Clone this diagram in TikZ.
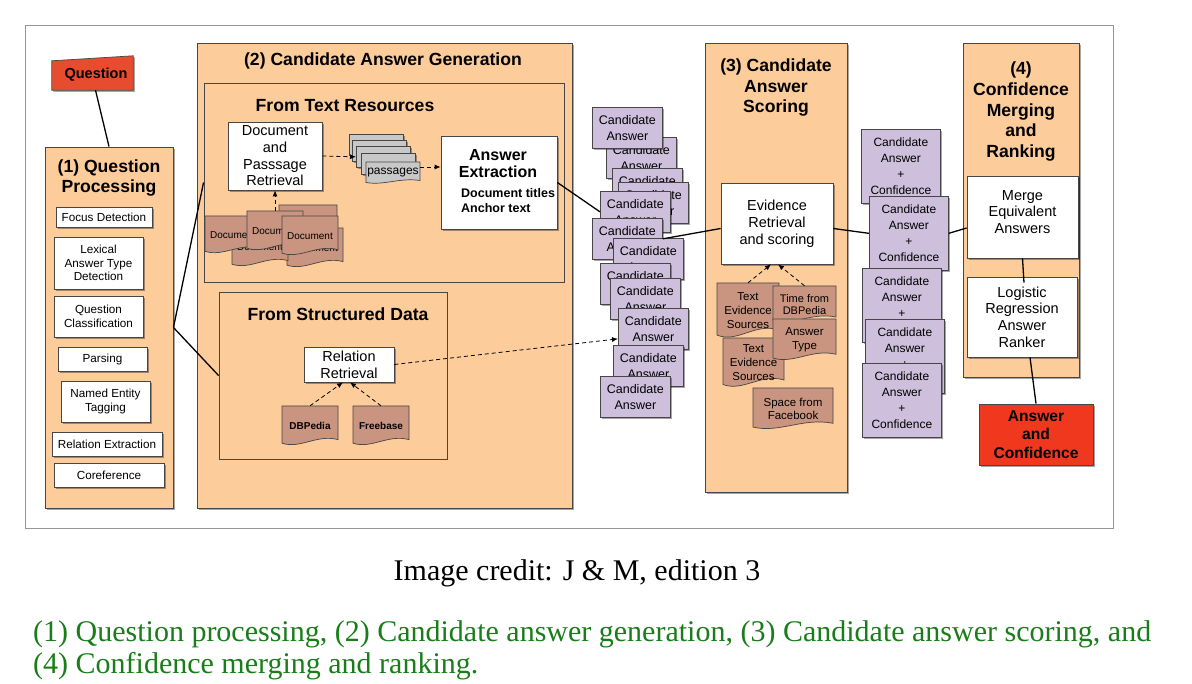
\documentclass[tikz,border=0pt]{standalone}
\usepackage{fontspec}
\setmainfont{Liberation Sans}
\newfontfamily\capserif{Liberation Serif}
\usetikzlibrary{shadows,arrows.meta,calc}

\definecolor{peach}{RGB}{253,204,155}
\definecolor{bordc}{RGB}{70,70,70}
\definecolor{qred}{RGB}{232,76,46}
\definecolor{ared}{RGB}{240,56,30}
\definecolor{docbrown}{RGB}{201,148,128}
\definecolor{lav}{RGB}{206,192,220}
\definecolor{pgray}{RGB}{200,200,200}
\definecolor{capgreen}{RGB}{25,125,25}
\definecolor{framegray}{RGB}{150,150,150}

\newcommand{\qpfont}{\fontsize{11.7}{13.7}\selectfont}
\newcommand{\midfont}{\fontsize{14.5}{16.7}\selectfont}
\newcommand{\docfont}{\fontsize{10}{12}\selectfont}
\newcommand{\evfont}{\fontsize{11.5}{14}\selectfont}
\newcommand{\capfont}{\capserif\fontsize{30}{32}\selectfont}

\tikzset{
  shad/.style={drop shadow={shadow xshift=1.6pt, shadow yshift=-1.6pt, fill=black, opacity=0.35}},
  stagebox/.style={draw=bordc, fill=peach, line width=0.9pt, shad, inner sep=0pt},
  subbox/.style={draw=bordc, fill=peach, line width=0.9pt, inner sep=0pt},
  wbox/.style={draw=bordc, fill=white, line width=0.7pt, shad, align=center, inner sep=1pt},
  cand/.style={draw=bordc, fill=lav, line width=0.7pt, shad, align=center, inner sep=1pt,
    minimum width=70pt, minimum height=41pt, font={\fontsize{12.5}{15.5}\selectfont}},
  cconf/.style={cand, minimum width=79pt, minimum height=74pt, font={\fontsize{12}{16}\selectfont}},
  pg/.style={draw=bordc, fill=pgray, line width=0.7pt, shad, inner sep=0pt, minimum width=54pt, minimum height=21pt},
  ttl/.style={font={\fontsize{17.6}{20.6}\selectfont\bfseries}, align=center, inner sep=0pt},
  conn/.style={line width=1.3pt, black},
  darr/.style={line width=0.8pt, black, dash pattern=on 4pt off 3pt, -{Latex[length=6pt,width=5pt]}},
  docedge/.style={draw=bordc, line width=0.7pt},
}

% #1 name, #2 left, #3 top, #4 width, #5 height, #6 fill, #7 node options, #8 text
\newcommand{\wdoc}[8]{%
  \filldraw[docedge, fill=#6] (#2,#3) -- ({#2+#4},#3) -- ({#2+#4},{#3+0.84*#5})
    .. controls ({#2+0.62*#4},{#3+0.70*#5}) and ({#2+0.33*#4},{#3+1.08*#5}) .. (#2,{#3+0.93*#5}) -- cycle;
  \node[inner sep=0pt, minimum width=#4pt, minimum height=#5pt, align=center, #7] (#1) at ({#2+#4/2},{#3+#5/2}) {#8};
}
\newcommand{\cand}[3]{\node[cand, anchor=north west] (#1) at (#2,#3) {Candidate\\Answer};}
\newcommand{\cconf}[3]{\node[cconf, anchor=north west] (#1) at (#2,#3) {Candidate\\Answer\\+\\Confidence};}

\begin{document}
\begin{tikzpicture}[x=1pt,y=-1pt]
\fill[white] (0,0) rectangle (1192,684);
\useasboundingbox (0,0) rectangle (1192,684);
\draw[framegray, line width=0.8pt] (25,25) rectangle (1113,528);

% stage boxes
\node[stagebox, minimum width=128pt, minimum height=361pt] (s1) at (109,327.5) {};
\node[stagebox, minimum width=375pt, minimum height=465pt] (s2) at (384.5,275.5) {};
\node[stagebox, minimum width=142pt, minimum height=449pt] (s3) at (776,267.5) {};
\node[stagebox, minimum width=116pt, minimum height=334pt] (s4) at (1021,210) {};

% question
\node[minimum width=81pt, minimum height=34pt, inner sep=0pt] (q) at (92.5,73) {};
\filldraw[draw=bordc, fill=qred, line width=0.7pt, shad] (q.south west) -- (q.south east) -- (q.north east) -- ($(q.north west)+(0,5)$) -- cycle;
\node[font={\fontsize{14.5}{16}\selectfont\bfseries}] (qt) at (96,75) {Question};

% stage 1
\node[ttl] (s1t) at (109,178) {(1) Question\\Processing};
\node[wbox, font=\qpfont, minimum width=96pt, minimum height=20pt] (fd) at (104,217) {Focus Detection};
\node[wbox, font=\qpfont, minimum width=89pt, minimum height=52pt] (lat) at (98.5,263) {Lexical\\Answer Type\\Detection};
\node[wbox, font=\qpfont, minimum width=89pt, minimum height=41pt] (qc) at (98.5,316.5) {Question\\Classification};
\node[wbox, font=\qpfont, minimum width=89pt, minimum height=24pt] (pa) at (102.5,359) {Parsing};
\node[wbox, font=\qpfont, minimum width=89pt, minimum height=41pt] (ne) at (105.5,401.5) {Named Entity\\Tagging};
\node[wbox, font=\qpfont, minimum width=110pt, minimum height=24pt] (rex) at (107,444) {Relation Extraction};
\node[wbox, font=\qpfont, minimum width=110pt, minimum height=24pt] (co) at (109,475) {Coreference};

% stage 2
\node[ttl] (s2t) at (383,61) {(2) Candidate Answer Generation};
\node[subbox, minimum width=360pt, minimum height=199pt] (ft) at (384,182.5) {};
\node[ttl] (ftt) at (345,106) {From Text Resources};
\node[wbox, font=\midfont, minimum width=94pt, minimum height=68pt] (dpr) at (275,156) {Document\\and\\Passsage\\Retrieval};

\wdoc{dd1}{279}{205}{58}{40}{docbrown}{font=\docfont}{Document}
\wdoc{dd2}{287}{228}{56}{40}{docbrown}{font=\docfont}{Document}
\wdoc{db}{232}{227}{56}{40}{docbrown}{font=\docfont}{Document}
\wdoc{da}{205}{216}{56}{38}{docbrown}{font=\docfont}{Document}
\wdoc{dc}{247}{211}{56}{40}{docbrown}{font=\docfont}{Document}
\wdoc{de}{282}{216}{56}{40}{docbrown}{font=\docfont}{Document}

\node[pg, anchor=north west] (p0) at (349,134) {};
\node[pg, anchor=north west] (p1) at (352,140) {};
\node[pg, anchor=north west] (p2) at (356,146) {};
\node[pg, anchor=north west] (p3) at (361,153) {};
\wdoc{p4}{366}{162}{54}{22}{pgray}{font={\fontsize{12}{14}\selectfont}}{passages}

\node[wbox, minimum width=116pt, minimum height=93pt] (ae) at (499,182.5) {};
\node[font={\fontsize{16}{17.5}\selectfont\bfseries}, align=center, inner sep=0pt] (aet) at (498,163.5) {Answer\\Extraction};
\node[font={\fontsize{12.5}{15}\selectfont\bfseries}, align=left, anchor=west, inner sep=0pt] (aes) at (461,200.5) {Document titles\\Anchor text};

\node[subbox, minimum width=228pt, minimum height=167pt] (sd) at (333,375.5) {};
\node[ttl] (sdt) at (338,314) {From Structured Data};
\node[wbox, font=\midfont, minimum width=90pt, minimum height=35pt] (rr) at (349,364.5) {Relation\\Retrieval};
\wdoc{dbp}{282}{406}{56}{40}{docbrown}{font={\docfont\bfseries}}{DBPedia}
\wdoc{fb}{353}{406}{56}{40}{docbrown}{font={\docfont\bfseries}}{Freebase}

% candidate answers
\cand{ca2}{606}{137}
\cand{ca1}{592}{107}
\cand{ca3}{612}{168}
\cand{ca4}{618}{182}
\cand{ca5}{600}{191}
\cand{ca6}{592}{218}
\cand{ca7}{613}{238}
\cand{ca8}{600}{263}
\cand{ca9}{610}{278}
\cand{ca10}{618}{308}
\cand{ca11}{613}{345}
\cand{ca12}{600}{376}

% stage 3
\node[ttl] (s3t) at (776,87.5) {(3) Candidate\\Answer\\Scoring};
\node[wbox, font={\fontsize{14.5}{17}\selectfont}, minimum width=112pt, minimum height=81pt] (er) at (777,223.5) {Evidence\\Retrieval\\and scoring};
\wdoc{tes1}{717}{283}{62}{56}{docbrown}{font=\evfont}{Text\\Evidence\\Sources}
\wdoc{tes2}{723}{338}{61}{50}{docbrown}{font=\evfont}{Text\\Evidence\\Sources}
\wdoc{tdb}{773}{286}{63}{37}{docbrown}{font={\fontsize{11}{12.5}\selectfont}}{Time from\\DBPedia}
\wdoc{aty}{773}{319}{63}{42}{docbrown}{font=\evfont}{Answer\\Type}
\wdoc{sfb}{753}{388}{80}{42}{docbrown}{font={\fontsize{11.5}{13.5}\selectfont}}{Space from\\Facebook}

% candidate + confidence
\cconf{cc1}{861}{129}
\cconf{cc2}{869}{196}
\cconf{cc3}{862}{268}
\cconf{cc4}{865}{319}
\cconf{cc5}{862}{363}

% stage 4
\node[ttl] (s4t) at (1021,111.5) {(4)\\Confidence\\Merging\\and\\Ranking};
\node[wbox, minimum width=111pt, minimum height=82pt] (mea) at (1022.5,217) {};
\node[font={\fontsize{14.5}{16.5}\selectfont}, align=center, inner sep=0pt] (meat) at (1022.5,212) {Merge\\Equivalent\\Answers};
\node[wbox, font=\midfont, minimum width=110pt, minimum height=80pt] (lr) at (1022,317) {Logistic\\Regression\\Answer\\Ranker};
\node[draw=bordc, fill=ared, line width=0.9pt, shad, align=center, inner sep=1pt,
  font={\fontsize{15.6}{18.5}\selectfont\bfseries}, minimum width=114pt, minimum height=61pt] (ac) at (1036,434.5) {Answer\\and\\Confidence};

% connectors
\draw[conn] ([xshift=3pt]q.south) -- (s1.north);
\draw[conn] (s1.east) -- (ft.west);
\draw[conn] (s1.east) -- (sd.west);
\draw[darr] (dpr.east) -- (p2.west);
\draw[darr] ([yshift=6pt]p4.east) -- ([yshift=6pt]p4.east -| ae.west);
\draw[darr] (dc.north) -- (dpr.south);
\draw[darr] (dbp.north) -- ([xshift=-6pt]rr.south);
\draw[darr] (fb.north) -- ([xshift=1pt]rr.south);
\draw[darr] (rr.east) -- ([yshift=-10pt]ca10.west);
\draw[conn] (ae.east) -- (ca5.west);
\draw[conn] (ca6.east) -- ([yshift=-5pt]er.west);
\draw[darr] (tes1.north) -- ([xshift=-6pt]er.south);
\draw[darr] (tdb.north) -- ([xshift=1pt]er.south);
\draw[conn] ([yshift=-5pt]er.east) -- (cc2.west);
\draw[conn] (cc2.east) -- ([yshift=-11pt]mea.west);
\draw[conn] (mea.south) -- ([xshift=2pt,yshift=-6pt]lr.north);
\draw[conn] ([xshift=8pt]lr.south) -- (ac.north);

% captions
\node[font=\capfont, anchor=base, inner sep=0pt] (cred) at (577,580) {Image credit: J \& M, edition 3};
\node[font=\capfont, text=capgreen, anchor=base west, inner sep=0pt] (cap1) at (33,641) {(1) Question processing, (2) Candidate answer generation, (3) Candidate answer scoring, and};
\node[font=\capfont, text=capgreen, anchor=base west, inner sep=0pt] (cap2) at (33,673) {(4) Confidence merging and ranking.};
\end{tikzpicture}
\end{document}
